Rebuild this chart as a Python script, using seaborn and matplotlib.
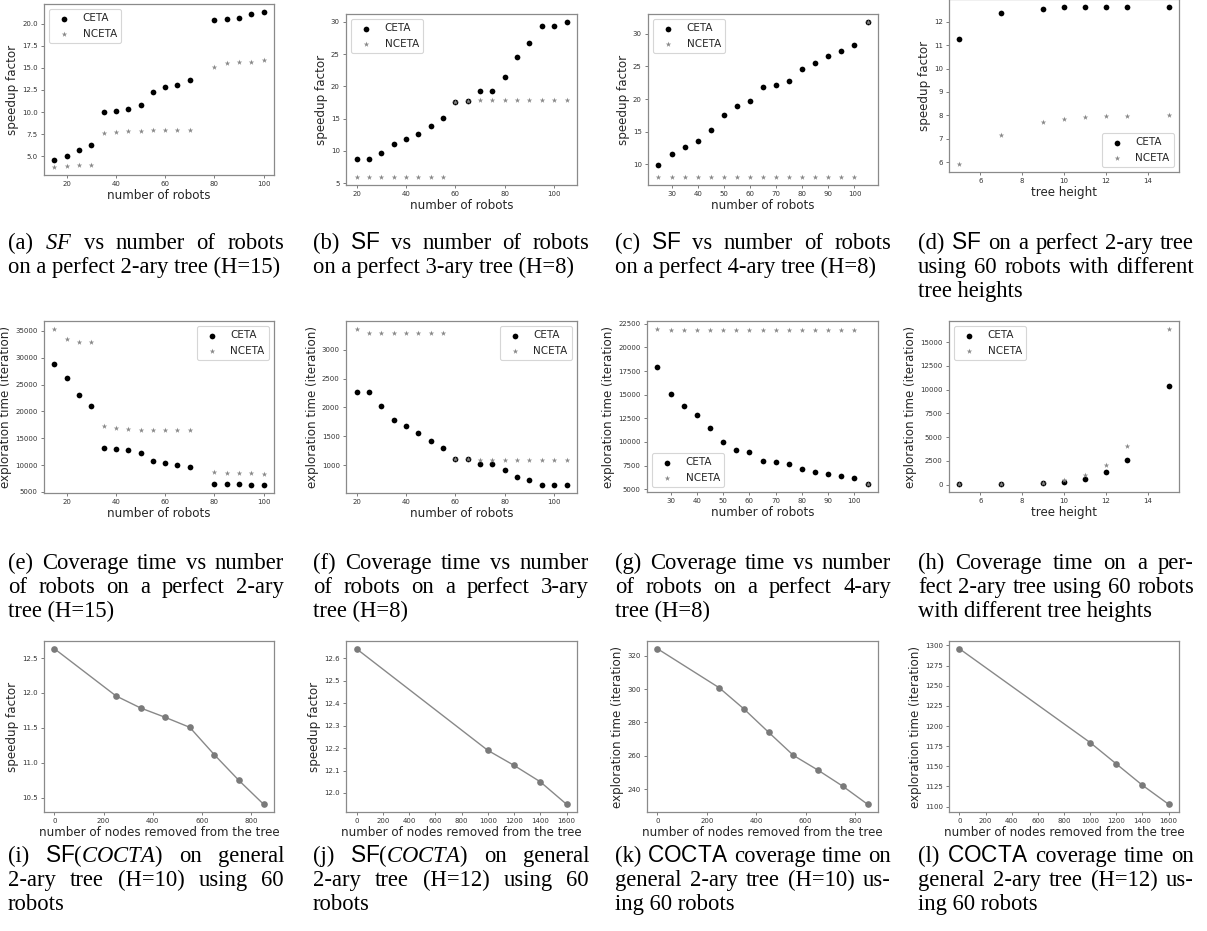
import numpy as np
import pandas as pd
import matplotlib
matplotlib.use("Agg")
import matplotlib.pyplot as plt
import seaborn as sns
from matplotlib.ticker import MultipleLocator

# ---------------- data ----------------
# (a) SF, 2-ary H=15
a_x = [15, 20, 25, 30, 35, 40, 45, 50, 55, 60, 65, 70, 80, 85, 90, 95, 100]
a_ceta = [4.6, 5.05, 5.7, 6.25, 10.0, 10.1, 10.3, 10.75, 12.25, 12.8, 13.05, 13.6, 20.45, 20.5, 20.65, 21.1, 21.35]
a_nceta = [3.75, 3.9, 4.0, 4.0, 7.6, 7.75, 7.85, 7.9, 8.0, 8.0, 8.0, 8.0, 15.1, 15.5, 15.7, 15.7, 15.9]
# (b) SF, 3-ary H=8
b_x = [20, 25, 30, 35, 40, 45, 50, 55, 60, 65, 70, 75, 80, 85, 90, 95, 100, 105]
b_ceta = [8.7, 8.7, 9.7, 11.1, 11.8, 12.6, 13.8, 15.1, 17.6, 17.7, 19.2, 19.3, 21.5, 24.6, 26.7, 29.4, 29.4, 30.0]
b_nceta = [5.9, 6.0, 6.0, 6.0, 6.0, 6.0, 6.0, 6.0, 17.6, 17.7, 17.9, 17.9, 17.9, 17.9, 17.9, 17.9, 17.9, 17.9]
# (c) SF, 4-ary H=8
c_x = [25, 30, 35, 40, 45, 50, 55, 60, 65, 70, 75, 80, 85, 90, 95, 100, 105]
c_ceta = [9.8, 11.6, 12.7, 13.6, 15.3, 17.6, 19.0, 19.7, 21.9, 22.1, 22.8, 24.6, 25.6, 26.6, 27.4, 28.3, 31.85]
c_nceta = [8.0, 8.0, 8.0, 8.0, 8.0, 8.0, 8.0, 8.0, 8.0, 8.0, 8.0, 8.0, 8.0, 8.0, 8.0, 8.0, 31.85]
# (d) SF vs tree height
d_x = [5, 7, 9, 10, 11, 12, 13, 15]
d_ceta = [11.27, 12.37, 12.55, 12.62, 12.62, 12.62, 12.64, 12.64]
d_nceta = [5.91, 7.16, 7.71, 7.85, 7.92, 7.97, 7.98, 8.0]
# (e) coverage time, 2-ary H=15
e_x = a_x
e_ceta = [28750, 26190, 23060, 21060, 13100, 13000, 12750, 12250, 10750, 10310, 10060, 9625, 6500, 6440, 6440, 6250, 6250]
e_nceta = [35375, 33560, 32875, 32875, 17300, 16940, 16690, 16560, 16500, 16500, 16500, 16500, 8750, 8500, 8440, 8440, 8310]
# (f) coverage time, 3-ary H=8
f_x = b_x
f_ceta = [2275, 2270, 2026, 1783, 1672, 1568, 1429, 1307, 1116, 1110, 1023, 1017, 913, 803, 739, 664, 664, 658]
f_nceta = [3359, 3290, 3290, 3290, 3290, 3290, 3290, 3290, 1116, 1110, 1099, 1099, 1099, 1099, 1099, 1099, 1099, 1099]
# (g) coverage time, 4-ary H=8
g_x = c_x
g_ceta = [17950, 15057, 13786, 12798, 11457, 9975, 9199, 8917, 7964, 7929, 7717, 7117, 6835, 6588, 6411, 6200, 5529]
g_nceta = [21970, 21830, 21830, 21830, 21830, 21830, 21830, 21830, 21830, 21830, 21830, 21830, 21830, 21830, 21830, 21830, 5529]
# (h) coverage time vs tree height
h_x = d_x
h_ceta = [30, 40, 150, 280, 630, 1270, 2570, 10350]
h_nceta = [30, 50, 200, 450, 1020, 2040, 4080, 16410]
# (i)-(l) general trees
i_x = [0, 250, 350, 450, 550, 650, 750, 850]
i_y = [12.634, 11.958, 11.785, 11.651, 11.507, 11.114, 10.745, 10.404]
j_x = [0, 1000, 1200, 1400, 1600]
j_y = [12.642, 12.19, 12.123, 12.05, 11.95]
k_x = i_x
k_y = [324.2, 300.8, 288.1, 274.1, 260.3, 251.4, 241.8, 231.0]
l_x = j_x
l_y = [1295.9, 1179.5, 1153.0, 1126.5, 1102.9]

captions = [
    ["(a) $SF$ vs number of robots", "on a perfect 2-ary tree (H=15)"],
    ["(b) $\\mathsf{SF}$ vs number of robots", "on a perfect 3-ary tree (H=8)"],
    ["(c) $\\mathsf{SF}$ vs number of robots", "on a perfect 4-ary tree (H=8)"],
    ["(d) $\\mathsf{SF}$ on a perfect 2-ary tree", "using 60 robots with different", "tree heights"],
    ["(e) Coverage time vs number", "of robots on a perfect 2-ary", "tree (H=15)"],
    ["(f) Coverage time vs number", "of robots on a perfect 3-ary", "tree (H=8)"],
    ["(g) Coverage time vs number", "of robots on a perfect 4-ary", "tree (H=8)"],
    ["(h) Coverage time on a per-", "fect 2-ary tree using 60 robots", "with different tree heights"],
    ["(i) $\\mathsf{SF}$($COCTA$) on general", "2-ary tree (H=10) using 60", "robots"],
    ["(j) $\\mathsf{SF}$($COCTA$) on general", "2-ary tree (H=12) using 60", "robots"],
    ["(k) $\\mathsf{COCTA}$ coverage time on", "general 2-ary tree (H=10) us-", "ing 60 robots"],
    ["(l) $\\mathsf{COCTA}$ coverage time on", "general 2-ary tree (H=12) us-", "ing 60 robots"],
]

# ---------------- style ----------------
sns.set_style("white")
plt.rcParams["font.family"] = ["DejaVu Sans"]
plt.rcParams["mathtext.fontset"] = "custom"
plt.rcParams["mathtext.rm"] = "Liberation Serif"
plt.rcParams["mathtext.it"] = "Liberation Serif:italic"
plt.rcParams["mathtext.sf"] = "Liberation Sans"

W, H = 1207, 931
fig = plt.figure(figsize=(W / 100, H / 100), dpi=100)


def add_ax(l, t, r, b):
    return fig.add_axes([l / W, 1 - b / H, (r - l) / W, (b - t) / H])


def style_ax(ax, xstep, ystep, xlabel, ylabel):
    for s in ax.spines.values():
        s.set_color("#8a8a8a")
        s.set_linewidth(0.9)
    ax.tick_params(axis="both", labelsize=5.0, length=2.5, width=0.6, color="#666666",
                   labelcolor="#333333", pad=2, bottom=True, left=True, direction="out")
    ax.xaxis.set_major_locator(MultipleLocator(xstep))
    ax.yaxis.set_major_locator(MultipleLocator(ystep))
    ax.set_xlabel(xlabel, fontsize=8.6, labelpad=1.5)
    ax.set_ylabel(ylabel, fontsize=8.6, labelpad=2)


def scatter_panel(box, x_c, y_c, x_n, y_n, xlabel, ylabel, loc, xstep, ystep):
    ax = add_ax(*box)
    sns.scatterplot(x=x_c, y=y_c, ax=ax, color="black", marker="o", s=17, linewidth=0, label="CETA")
    sns.scatterplot(x=x_n, y=y_n, ax=ax, color="#888888", marker="*", s=17, linewidth=0, label="NCETA")
    style_ax(ax, xstep, ystep, xlabel, ylabel)
    leg = ax.legend(loc=loc, fontsize=7.5, frameon=True, fancybox=True)
    leg.get_frame().set_edgecolor("#cccccc")
    leg.get_frame().set_linewidth(0.8)
    return ax


def line_panel(box, x, y, xlabel, ylabel, xstep, ystep):
    ax = add_ax(*box)
    sns.lineplot(x=x, y=y, ax=ax, color="#888888", linewidth=1.0, marker="o",
                 markersize=4.8, markeredgewidth=0, markerfacecolor="#7a7a7a")
    style_ax(ax, xstep, ystep, xlabel, ylabel)
    return ax


nr = "number of robots"
sf = "speedup factor"
et = "exploration time (iteration)"
th = "tree height"
nn = "number of nodes removed from the tree"

scatter_panel((44, 4, 274, 175), a_x, a_ceta, a_x, a_nceta, nr, sf, "upper left", 20, 2.5)
scatter_panel((346, 14, 577, 185), b_x, b_ceta, b_x, b_nceta, nr, sf, "upper left", 20, 5)
scatter_panel((648, 14, 878, 185), c_x, c_ceta, c_x, c_nceta, nr, sf, "upper left", 10, 5)
scatter_panel((949, -1, 1179, 172), d_x, d_ceta, d_x, d_nceta, th, sf, "lower right", 2, 1)

scatter_panel((44, 321, 274, 493), e_x, e_ceta, e_x, e_nceta, nr, et, "upper right", 20, 5000)
scatter_panel((346, 321, 577, 493), f_x, f_ceta, f_x, f_nceta, nr, et, "upper right", 20, 500)
scatter_panel((647, 321, 878, 492), g_x, g_ceta, g_x, g_nceta, nr, et, "lower left", 10, 2500)
scatter_panel((949, 321, 1179, 492), h_x, h_ceta, h_x, h_nceta, th, et, "upper left", 2, 2500)

line_panel((44, 641, 274, 812), i_x, i_y, nn, sf, 200, 0.5)
line_panel((346, 641, 577, 812), j_x, j_y, nn, sf, 200, 0.1)
line_panel((647, 641, 878, 812), k_x, k_y, nn, et, 200, 20)
line_panel((949, 641, 1179, 812), l_x, l_y, nn, et, 200, 25)

# ---------------- captions (justified) ----------------
cap_x0 = [8, 313, 615, 918]
cap_w = 276
row_baselines = [[249, 273, 297], [569, 593, 617], [862, 886, 910]]
cap_fs = 16.3
renderer = fig.canvas.get_renderer()


def put_caption(lines, x0, baselines):
    for li, (line, yb) in enumerate(zip(lines, baselines)):
        kw = dict(fontsize=cap_fs, family="Liberation Serif", va="baseline", ha="left", color="black")
        if li == len(lines) - 1:
            fig.text(x0 / W, 1 - yb / H, line, **kw)
            continue
        words = line.split(" ")
        texts = [fig.text(0, 1 - yb / H, w, **kw) for w in words]
        widths = [t.get_window_extent(renderer).width for t in texts]
        gap = (cap_w - sum(widths)) / max(len(words) - 1, 1)
        xpos = x0
        for t, wdt in zip(texts, widths):
            t.set_x(xpos / W)
            xpos += wdt + gap


for idx, lines in enumerate(captions):
    r, c = divmod(idx, 4)
    put_caption(lines, cap_x0[c], row_baselines[r])

fig.savefig("out.png", dpi=100)
